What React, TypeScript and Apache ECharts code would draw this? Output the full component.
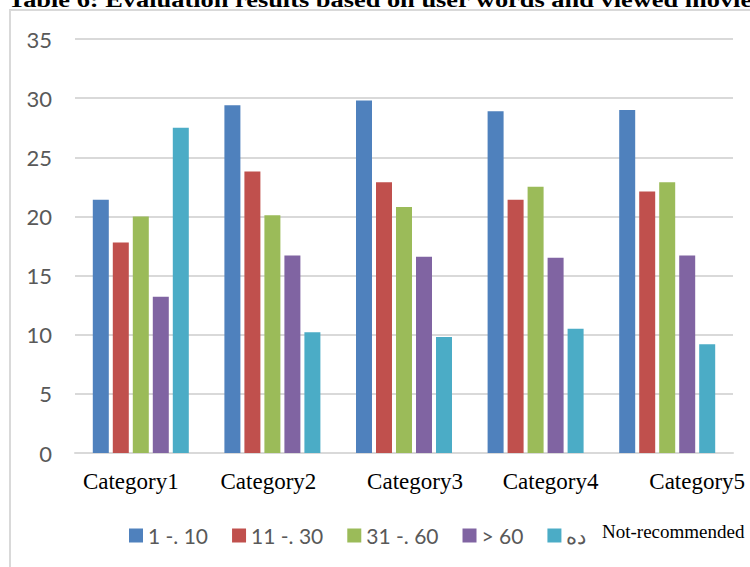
import React, { useEffect, useRef } from "react";
import * as echarts from "echarts";

// Categories along the x axis
const categories = ["Category1", "Category2", "Category3", "Category4", "Category5"];

// Series names (age groups) as shown in the legend
const seriesNames = ["1 -. 10", "11 -. 30", "31 -. 60", "> 60", "ده"];

// Values per series, one entry per category
const values1to10 = [21.4, 29.4, 29.8, 28.9, 29.0];
const values11to30 = [17.8, 23.8, 22.9, 21.4, 22.1];
const values31to60 = [20.0, 20.1, 20.8, 22.5, 22.9];
const valuesOver60 = [13.2, 16.7, 16.6, 16.5, 16.7];
const valuesTen = [27.5, 10.2, 9.8, 10.5, 9.2];

// Y axis range
const yMin = 0;
const yMax = 35;
const yStep = 5;

const titleText = "Table 6: Evaluation results based on user words and viewed movies";
const noteText = "Not-recommended";

const palette = ["#4F81BD", "#C0504D", "#9BBB59", "#8064A2", "#4BACC6"];

// horizontal nudges of the category captions (pixels)
const labelShift = [-10, -4, 11, 15, 30];

export default function App() {
  const ref = useRef<HTMLDivElement>(null);

  useEffect(() => {
    if (!ref.current) return;
    const chart = echarts.init(ref.current, null, { renderer: "svg" });
    const seriesData = [values1to10, values11to30, values31to60, valuesOver60, valuesTen];

    const rich: Record<string, any> = {};
    categories.forEach((_, i) => {
      const d = labelShift[i];
      rich["c" + i] = {
        fontFamily: "Liberation Serif",
        fontSize: 23,
        color: "#000",
        padding: d >= 0 ? [0, 0, 0, 2 * d] : [0, -2 * d, 0, 0],
      };
    });

    chart.setOption({
      animation: false,
      backgroundColor: "#fff",
      grid: { left: 75, right: 17, top: 39, bottom: 114, containLabel: false },
      legend: {
        left: 124,
        top: 520,
        itemWidth: 14,
        itemHeight: 14,
        itemGap: 24,
        icon: "rect",
        textStyle: { fontFamily: "Lato", fontSize: 21, color: "#595959" },
        data: seriesNames,
      },
      xAxis: {
        type: "category",
        data: categories,
        axisLine: { show: true, lineStyle: { color: "#d9d9d9", width: 2 } },
        axisTick: { show: false },
        axisLabel: {
          margin: 17,
          formatter: (v: string) => {
            const i = categories.indexOf(v);
            return "{c" + i + "|" + v + "}";
          },
          rich,
        },
      },
      yAxis: {
        type: "value",
        min: yMin,
        max: yMax,
        interval: yStep,
        axisLine: { show: false },
        axisTick: { show: false },
        splitLine: { lineStyle: { color: "#d9d9d9", width: 2 } },
        axisLabel: { fontFamily: "Lato", fontSize: 22, color: "#595959", margin: 23 },
      },
      series: seriesNames.map((name, i) => ({
        name,
        type: "bar",
        data: seriesData[i],
        barWidth: 16,
        barGap: "25%",
        itemStyle: { color: palette[i] },
      })),
      graphic: [
        {
          type: "rect",
          shape: { x: 10, y: 10, width: 780, height: 600 },
          style: { fill: "none", stroke: "#d9d9d9", lineWidth: 2 },
          silent: true,
        },
        {
          type: "text",
          x: 8,
          y: 10,
          style: {
            text: titleText,
            font: "bold 22px 'Liberation Serif'",
            fill: "#000",
            align: "left",
            verticalAlign: "bottom",
          },
          scaleX: 1.2,
        },
        {
          type: "text",
          x: 602,
          y: 531,
          style: {
            text: noteText,
            font: "19px 'Liberation Serif'",
            fill: "#000",
            align: "left",
            verticalAlign: "middle",
          },
        },
      ],
    });

    return () => chart.dispose();
  }, []);

  return (
    <div
      ref={ref}
      style={{ position: "fixed", left: 0, top: 0, width: 750, height: 567, background: "#fff" }}
    />
  );
}
